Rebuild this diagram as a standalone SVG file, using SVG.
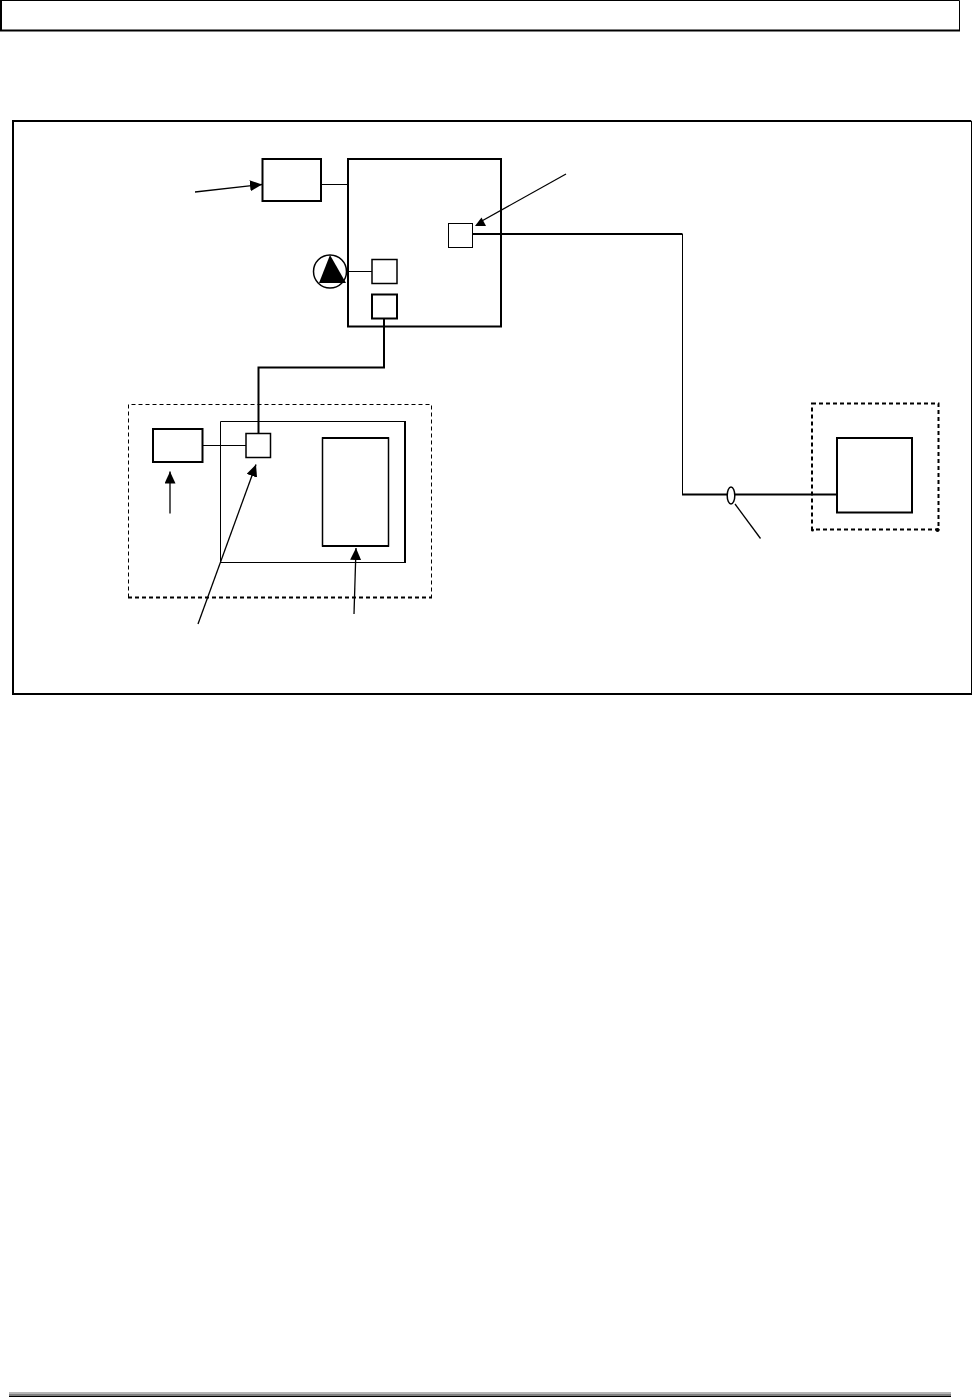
<svg xmlns="http://www.w3.org/2000/svg" width="972" height="1398" viewBox="0 0 972 1398">
<style>
.n{fill:#fff;stroke:#000;stroke-width:2}
.t{fill:#fff;stroke:#000;stroke-width:1}
.m{fill:#fff;stroke:#000;stroke-width:1.500}
.l{fill:none;stroke:#000;stroke-width:1}
.s{fill:none;stroke:#000;stroke-width:1.300}
.h{fill:none;stroke:#000;stroke-width:2}
.d{fill:none;stroke:#000;stroke-width:1;stroke-dasharray:4 3}
.dh{fill:none;stroke:#000;stroke-width:2;stroke-dasharray:4 3}
</style>
<defs>
<marker id="a" markerUnits="userSpaceOnUse" markerWidth="13" markerHeight="13" refX="12" refY="5.500" orient="auto"><path d="M0 0L12 5.500L0 11Z" fill="#000"/></marker>
</defs>
<rect width="972" height="1398" fill="#fff"/>
<g id="header"><path class="t" d="M1 .5H959.5V30.5"/><path class="h" d="M1 0V30.5H960"/></g>
<g id="frame"><path class="t" d="M13 121H971.5V694"/><path class="h" d="M13 121H971M13 120V694H972"/></g>
<g id="zone-left"><path class="d" d="M128.5 597.5V404.5H431.5V597.5"/><path class="dh" d="M128 597.5H432"/></g>
<g id="zone-right"><path class="dh" d="M812 403.500H938.500V529.500H812Z"/><circle cx="812.500" cy="530" r="1.500"/><circle cx="937.500" cy="530" r="2"/></g>
<g id="box-a"><rect class="n" x="262.500" y="159" width="58.500" height="42"/></g>
<g id="box-b"><rect class="n" x="348" y="159" width="153" height="167.500"/></g>
<g id="port-1"><rect class="t" x="448.500" y="223.500" width="24" height="24"/></g>
<g id="port-2"><rect class="m" x="372" y="259.500" width="25" height="24"/></g>
<g id="port-3"><rect class="n" x="372" y="294.500" width="25" height="24"/></g>
<g id="pump"><circle class="m" cx="330" cy="271.500" r="16.500"/><path d="M330 255L346 283H319Z" fill="#000"/></g>
<g id="enclosure"><path class="t" d="M220.500 562.500V421.500H404M220 562.500H405"/><path class="h" d="M405 421V563"/></g>
<g id="box-c"><rect class="n" x="153" y="429" width="49.500" height="33"/></g>
<g id="port-4"><rect class="m" x="246" y="433.500" width="24.500" height="24"/></g>
<g id="box-d"><rect class="m" x="322.500" y="438" width="66" height="108"/><path class="h" d="M322 438H389M322 546H389"/></g>
<g id="box-e"><rect class="n" x="837" y="438" width="75" height="74.500"/></g>
<g id="connectors">
<path class="l" d="M321 184.500H348M346 271.500H372M202 445.500H246"/>
<path class="h" d="M384 318V367.500H258.500V433"/>
<path class="h" d="M473 234H682.500"/>
<path class="l" d="M682.500 234V494.500"/>
<path class="h" d="M682 494.500H837"/>
<path class="s" d="M735 504L760.500 538.500"/>
<path class="s" marker-end="url(#a)" d="M195 192L262 184.500"/>
<path class="s" d="M566 174L480 222"/>
<path d="M475 226H486L481.500 217.500Z" fill="#000"/>
<path class="s" marker-end="url(#a)" d="M170 513.500V471.500"/>
<path class="s" marker-end="url(#a)" d="M198 624L256 464.500"/>
<path class="s" marker-end="url(#a)" d="M354 614L356 548"/>
</g>
<g id="clamp"><ellipse class="m" cx="731" cy="495.500" rx="3.800" ry="8.500"/></g>
<g id="footer"><rect x="9" y="1392" width="942" height="2" fill="#b5b5b5"/><rect x="9" y="1394" width="942" height="2" fill="#808080"/><rect x="9" y="1396" width="942" height="1" fill="#000"/></g>
</svg>
